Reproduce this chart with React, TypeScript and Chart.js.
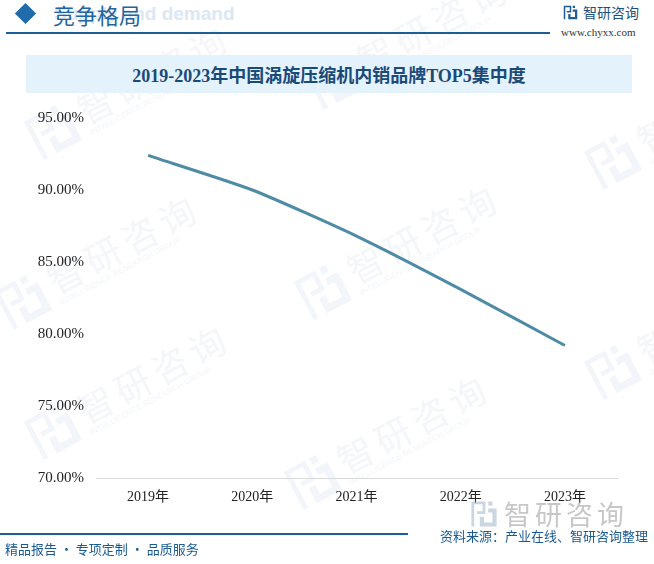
import React, { useEffect, useRef } from "react";
import { Chart, registerables } from "chart.js";

Chart.register(...registerables);

const years = ["2019年", "2020年", "2021年", "2022年", "2023年"];
const top5Share = [92.4, 90.0, 86.8, 83.1, 79.2];
const yMin = 70;
const yMax = 95;
const yStep = 5;

const titleText = "2019-2023年中国涡旋压缩机内销品牌TOP5集中度";
const sectionText = "竞争格局";
const sourceText = "资料来源：产业在线、智研咨询整理";
const sloganText = "精品报告 · 专项定制 · 品质服务";

const wmPositions = [
  [20, 120], [300, 70], [-10, 290], [290, 280], [20, 420], [280, 470], [580, 150], [580, 360],
];

function LogoIcon({ size, color }: { size: number; color: string }) {
  const s = size;
  return (
    <svg width={s} height={s} viewBox="0 0 20 20" style={{ display: "block" }}>
      <path d="M1 1 H11 V10 H5 V8 H9 V3 H3 V19 H1 Z" fill={color} />
      <rect x="13" y="1" width="3" height="3" fill={color} />
      <path d="M13 6 H19 V19 H7 V12 H10 V16 H16 V9 H13 Z" fill={color} />
    </svg>
  );
}

export default function App() {
  const canvasRef = useRef<HTMLCanvasElement | null>(null);

  useEffect(() => {
    if (!canvasRef.current) return;
    const chart = new Chart(canvasRef.current, {
      type: "line",
      data: {
        labels: years,
        datasets: [
          {
            data: top5Share,
            borderColor: "#4e8ba5",
            borderWidth: 3,
            pointRadius: 0,
            tension: 0.2,
            fill: false,
          },
        ],
      },
      options: {
        animation: false,
        responsive: false,
        maintainAspectRatio: false,
        layout: { padding: { top: 118, left: 0, right: 37, bottom: 0 } },
        plugins: { legend: { display: false }, tooltip: { enabled: false }, title: { display: false } },
        scales: {
          x: {
            offset: true,
            grid: { display: false, drawTicks: false, offset: true },
            border: { display: true, color: "#d9d9d9", width: 1 },
            ticks: {
              padding: 11,
              color: "#222",
              font: { family: "'Liberation Serif', 'Noto Sans CJK SC', serif", size: 14 },
              maxRotation: 0,
            },
            afterFit: (scale: any) => {
              scale.height = 564 - 478;
            },
          },
          y: {
            min: yMin,
            max: yMax,
            grid: { display: false, drawTicks: false },
            border: { display: false },
            ticks: {
              stepSize: yStep,
              padding: 12,
              color: "#222",
              font: { family: "'Liberation Serif', serif", size: 15 },
              callback: (v: any) => Number(v).toFixed(2) + "%",
            },
            afterFit: (scale: any) => {
              scale.width = 96;
            },
          },
        },
      },
    });
    return () => chart.destroy();
  }, []);

  return (
    <div
      style={{
        position: "fixed",
        left: 0,
        top: 0,
        width: 654,
        height: 564,
        background: "#fff",
        overflow: "hidden",
        fontFamily: "'Noto Sans CJK SC', sans-serif",
      }}
    >
      {wmPositions.map(([x, y], i) => (
        <div
          key={i}
          style={{
            position: "absolute",
            left: x,
            top: y,
            transform: "rotate(-28deg)",
            transformOrigin: "left top",
            display: "flex",
            alignItems: "center",
            gap: 8,
            opacity: 0.45,
            whiteSpace: "nowrap",
            width: 260,
          }}
        >
          <LogoIcon size={48} color="#e3ebf3" />
          <div>
            <div style={{ fontSize: 36, color: "#e8edf2", letterSpacing: 6, lineHeight: "40px" }}>智研咨询</div>
            <div style={{ fontSize: 8, color: "#e8edf2", fontFamily: "Arial, sans-serif" }}>
              INTELLIGENCE RESEARCH GROUP
            </div>
          </div>
        </div>
      ))}

      <div
        style={{
          position: "absolute",
          left: 18,
          top: 6,
          width: 15,
          height: 15,
          background: "#1f6bab",
          transform: "rotate(45deg)",
        }}
      />
      <div
        style={{
          position: "absolute",
          left: 54,
          top: 3,
          fontFamily: "'Liberation Sans', Arial, sans-serif",
          fontWeight: "bold",
          fontSize: 19,
          color: "#dbe8f4",
          whiteSpace: "nowrap",
        }}
      >
        Supply and demand
      </div>
      <div
        style={{
          position: "absolute",
          left: 53,
          top: -1,
          fontSize: 22,
          lineHeight: "30px",
          color: "#24649c",
          whiteSpace: "nowrap",
        }}
      >
        {sectionText}
      </div>
      <div style={{ position: "absolute", left: 6, top: 32, width: 544, height: 2, background: "#1c5f96" }} />
      <div style={{ position: "absolute", left: 563, top: 5 }}>
        <LogoIcon size={15} color="#1f5e96" />
      </div>
      <div
        style={{
          position: "absolute",
          left: 583,
          top: 1,
          fontSize: 14,
          lineHeight: "22px",
          color: "#1a4f80",
          whiteSpace: "nowrap",
        }}
      >
        智研咨询
      </div>
      <div
        style={{
          position: "absolute",
          left: 561,
          top: 26,
          fontSize: 11,
          fontFamily: "'Liberation Serif', serif",
          color: "#333",
          whiteSpace: "nowrap",
        }}
      >
        www.chyxx.com
      </div>

      <div
        style={{
          position: "absolute",
          left: 26,
          top: 55,
          width: 606,
          height: 38,
          background: "#e4f2fb",
          display: "flex",
          alignItems: "center",
          justifyContent: "center",
          fontFamily: "'Liberation Serif', 'Noto Sans CJK SC', serif",
          fontWeight: "bold",
          fontSize: 18,
          color: "#1a4a78",
          whiteSpace: "nowrap",
        }}
      >
        {titleText}
      </div>

      <canvas
        ref={canvasRef}
        width={654}
        height={564}
        style={{ position: "absolute", left: 0, top: 0, width: 654, height: 564 }}
      />

      <div
        style={{
          position: "absolute",
          left: 470,
          top: 499,
          display: "flex",
          alignItems: "center",
          gap: 6,
          opacity: 0.55,
          whiteSpace: "nowrap",
        }}
      >
        <LogoIcon size={28} color="#9fb4c8" />
        <div style={{ fontSize: 27, letterSpacing: 4, color: "#9a9a9a", lineHeight: "30px" }}>智研咨询</div>
      </div>

      <div style={{ position: "absolute", left: 0, top: 533, width: 408, height: 2, background: "#1c5f96" }} />
      <div
        style={{
          position: "absolute",
          left: 5,
          top: 540,
          fontSize: 13,
          lineHeight: "18px",
          color: "#1a5a90",
          whiteSpace: "nowrap",
        }}
      >
        {sloganText}
      </div>
      <div
        style={{
          position: "absolute",
          right: 6,
          top: 527,
          fontSize: 13,
          lineHeight: "18px",
          color: "#1a5a90",
          whiteSpace: "nowrap",
        }}
      >
        {sourceText}
      </div>
    </div>
  );
}
